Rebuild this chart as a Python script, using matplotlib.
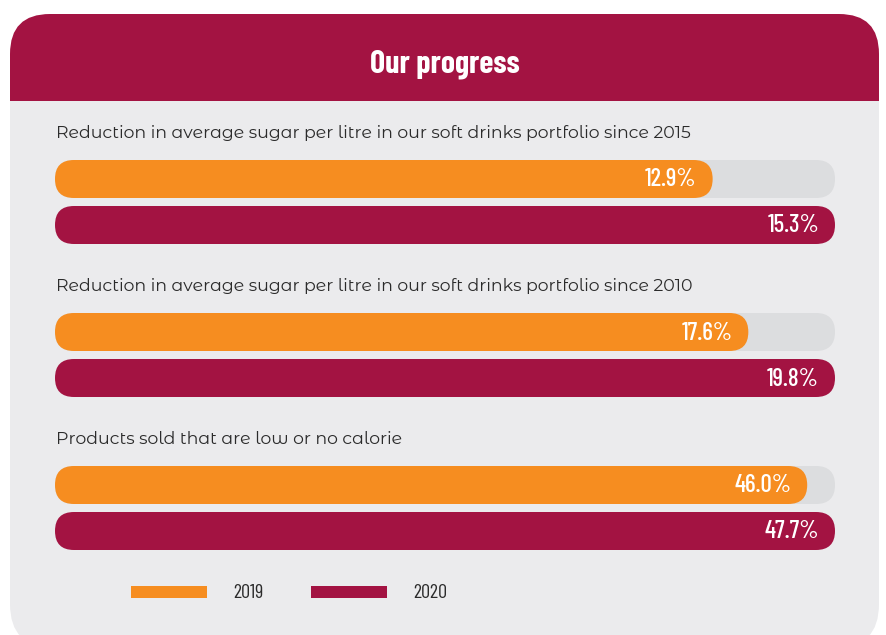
import matplotlib
matplotlib.use("Agg")
import matplotlib.pyplot as plt
from matplotlib.patches import FancyBboxPatch, Rectangle

# data
captions = [
    "Reduction in average sugar per litre in our soft drinks portfolio since 2015",
    "Reduction in average sugar per litre in our soft drinks portfolio since 2010",
    "Products sold that are low or no calorie",
]
vals_2019 = [12.9, 17.6, 46.0]
vals_2020 = [15.3, 19.8, 47.7]
years = ["2019", "2020"]
title = "Our progress"

CRIMSON = "#A31342"
ORANGE = "#F68D20"
TRACK = "#DCDDDF"
PANEL = "#EBEBED"
TEXT = "#2B2B2B"
COND = ["Barlow Condensed", "DejaVu Sans"]
BODY = ["Montserrat Alternates", "DejaVu Sans"]

fig = plt.figure(figsize=(8.87, 6.35), dpi=100)
ax = fig.add_axes([0, 0, 1, 1])
ax.set_xlim(0, 887)
ax.set_ylim(635, 0)
ax.axis("off")

# panel + header
ax.add_patch(FancyBboxPatch((10, 14), 869, 634, boxstyle="round,pad=0,rounding_size=44",
                            fc=PANEL, ec="none"))
hdr = FancyBboxPatch((10, 14), 869, 200, boxstyle="round,pad=0,rounding_size=40",
                     fc=CRIMSON, ec="none")
ax.add_patch(hdr)
hdr.set_clip_path(Rectangle((0, 0), 887, 101, transform=ax.transData))
ax.text(445, 64, title, color="white", fontsize=23, fontweight="bold", family=COND,
        ha="center", va="center")


def pill(x, y, w, h, color):
    ax.add_patch(FancyBboxPatch((x, y), w, h, boxstyle=f"round,pad=0,rounding_size={h / 2}",
                                fc=color, ec="none"))


x0, track_w, bar_h, gap = 55, 780, 38, 8
for i, cap in enumerate(captions):
    top = 160 + 153 * i
    ax.text(56, top - 27, cap, color=TEXT, fontsize=12.5, family=BODY, ha="left", va="center")
    full = max(vals_2019[i], vals_2020[i])  # each group scaled to its largest value
    pill(x0, top, track_w, bar_h, TRACK)
    for j, (v, c) in enumerate([(vals_2019[i], ORANGE), (vals_2020[i], CRIMSON)]):
        y = top + j * (bar_h + gap)
        w = track_w * v / full
        pill(x0, y, w, bar_h, c)
        ax.text(x0 + w - 16, y + bar_h / 2 + 1, f"{v:.1f}%", color="white", fontsize=18,
                fontweight="medium", family=COND, ha="right", va="center")

# legend
for k, (lab, c) in enumerate(zip(years, [ORANGE, CRIMSON])):
    lx = 131 + 180 * k
    ax.add_patch(Rectangle((lx, 586), 76, 12, fc=c, ec="none"))
    ax.text(lx + 102, 593, lab, color=TEXT, fontsize=14.5, family=COND,
            ha="left", va="center")

fig.savefig("out.png", dpi=100)
